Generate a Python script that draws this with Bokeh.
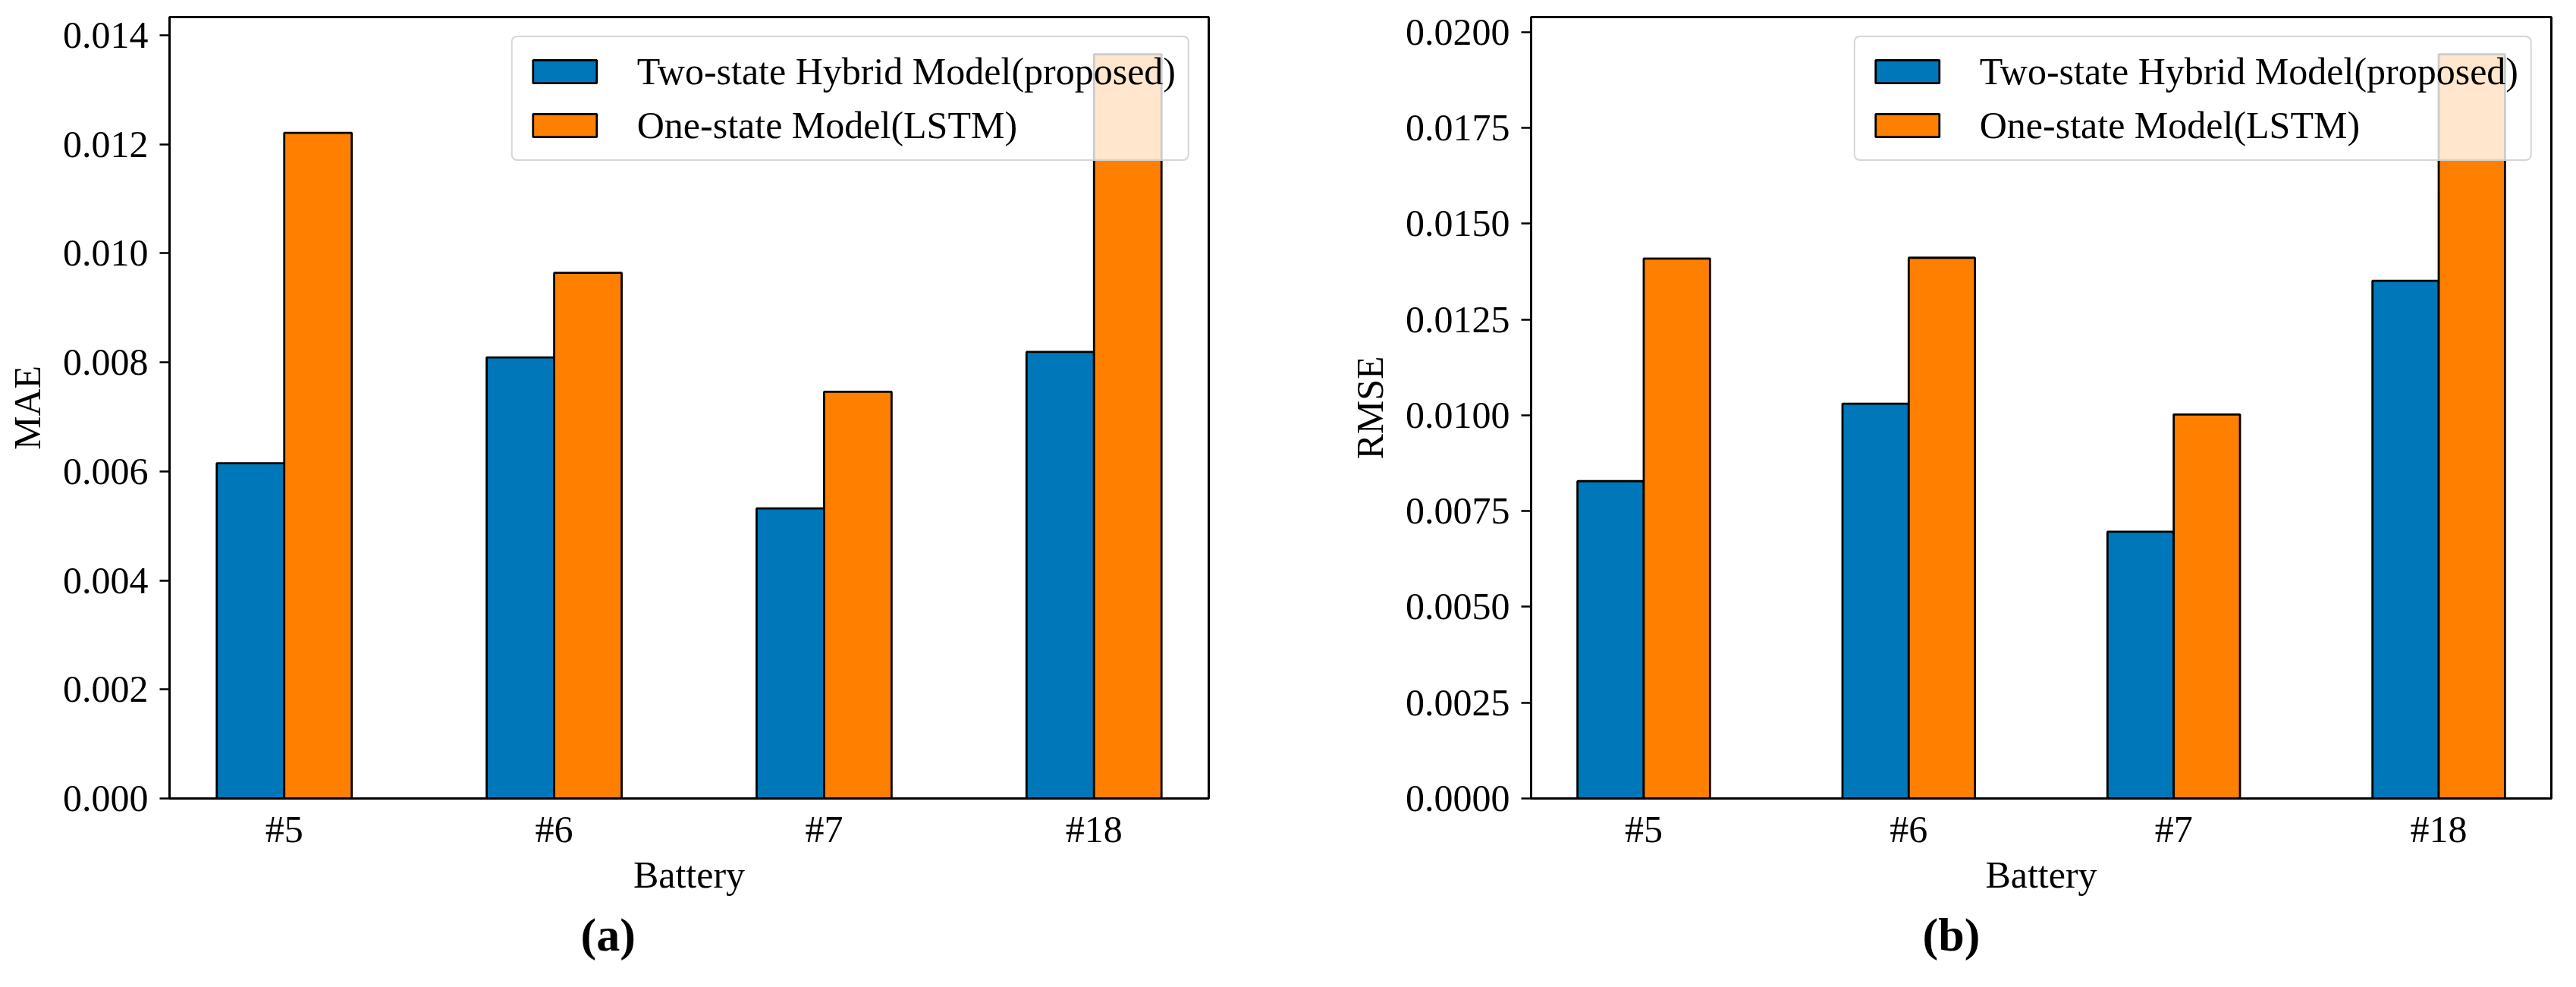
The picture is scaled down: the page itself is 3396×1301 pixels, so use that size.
import numpy as np
from bokeh.plotting import figure
from bokeh.layouts import row
from bokeh.models import Range1d, FixedTicker, PrintfTickFormatter
from bokeh.embed import file_html
from bokeh.resources import INLINE

batteries = ["#5", "#6", "#7", "#18"]
series_names = ["Two-state Hybrid Model(proposed)", "One-state Model(LSTM)"]
mae_hybrid = [0.00615, 0.00809, 0.00532, 0.00819]
mae_lstm = [0.01221, 0.00964, 0.00746, 0.01365]
rmse_hybrid = [0.00828, 0.01030, 0.00696, 0.01351]
rmse_lstm = [0.01409, 0.01411, 0.01002, 0.01942]
mae_ticks = [0.0, 0.002, 0.004, 0.006, 0.008, 0.010, 0.012, 0.014]
rmse_ticks = [0.0, 0.0025, 0.0050, 0.0075, 0.0100, 0.0125, 0.0150, 0.0175, 0.0200]

BLUE = "#0077b8"
ORANGE = "#ff8000"
FONT = "Liberation Serif"


def panel(hyb, lstm, ylabel, ticks, fmt, frame_w, mb_left, mb_right, caption, cap_offset):
    n = len(batteries)
    ymax = max(max(hyb), max(lstm)) * 1.05
    p = figure(frame_width=frame_w, frame_height=1030, output_backend="svg",
               toolbar_location=None,
               x_range=Range1d(-0.425, n - 1 + 0.425), y_range=Range1d(0, ymax),
               min_border_left=mb_left, min_border_right=mb_right,
               min_border_top=22, min_border_bottom=230,
               title=caption, title_location="below")
    x = np.arange(n)
    p.vbar(x=x - 0.125, top=hyb, width=0.25, fill_color=BLUE, line_color="black",
           line_width=2.8, legend_label=series_names[0])
    p.vbar(x=x + 0.125, top=lstm, width=0.25, fill_color=ORANGE, line_color="black",
           line_width=2.8, legend_label=series_names[1])

    p.xgrid.visible = False
    p.ygrid.visible = False
    p.outline_line_color = "black"
    p.outline_line_width = 3
    p.background_fill_color = "white"

    xa = p.xaxis[0]
    xa.ticker = FixedTicker(ticks=list(range(n)))
    xa.major_label_overrides = {i: b for i, b in enumerate(batteries)}
    xa.major_tick_out = 0
    xa.major_tick_in = 0
    xa.major_label_standoff = 12
    xa.axis_label = "Battery"
    xa.axis_label_standoff = 1

    ya = p.yaxis[0]
    ya.ticker = FixedTicker(ticks=ticks)
    ya.formatter = PrintfTickFormatter(format=fmt)
    ya.major_tick_out = 13
    ya.major_tick_in = 0
    ya.major_label_standoff = 15
    ya.axis_label = ylabel
    ya.axis_label_standoff = 16

    for ax in (xa, ya):
        ax.axis_line_width = 3
        ax.axis_line_color = "black"
        ax.major_tick_line_width = 2.5
        ax.major_tick_line_color = "black"
        ax.minor_tick_line_color = None
        ax.major_label_text_font = FONT
        ax.major_label_text_font_size = "50px"
        ax.major_label_text_color = "black"
        ax.axis_label_text_font = FONT
        ax.axis_label_text_font_size = "50px"
        ax.axis_label_text_font_style = "normal"
        ax.axis_label_text_color = "black"

    t = p.title
    t.text_font = FONT
    t.text_font_size = "62px"
    t.text_font_style = "bold"
    t.text_color = "black"
    t.align = "left"
    t.offset = cap_offset
    t.standoff = 25

    lg = p.legend[0]
    lg.location = "top_right"
    lg.margin = 25
    lg.padding = 16
    lg.spacing = 13
    lg.glyph_width = 105
    lg.glyph_height = 38
    lg.label_standoff = 43
    lg.label_text_font = FONT
    lg.label_text_font_size = "50px"
    lg.label_text_color = "black"
    lg.border_line_color = "#cccccc"
    lg.border_line_width = 2.5
    lg.border_line_alpha = 0.8
    lg.background_fill_color = "white"
    lg.background_fill_alpha = 0.8
    if "border_radius" in lg.properties():
        lg.border_radius = 8
    return p


p1 = panel(mae_hybrid, mae_lstm, "MAE", mae_ticks, "%.3f", 1370, 223, 99, "(a)", 542)
p2 = panel(rmse_hybrid, rmse_lstm, "RMSE", rmse_ticks, "%.4f", 1345, 326, 17, "(b)", 516)

layout = row(p1, p2, spacing=0)
open("out.html", "w").write(file_html(layout, INLINE))
